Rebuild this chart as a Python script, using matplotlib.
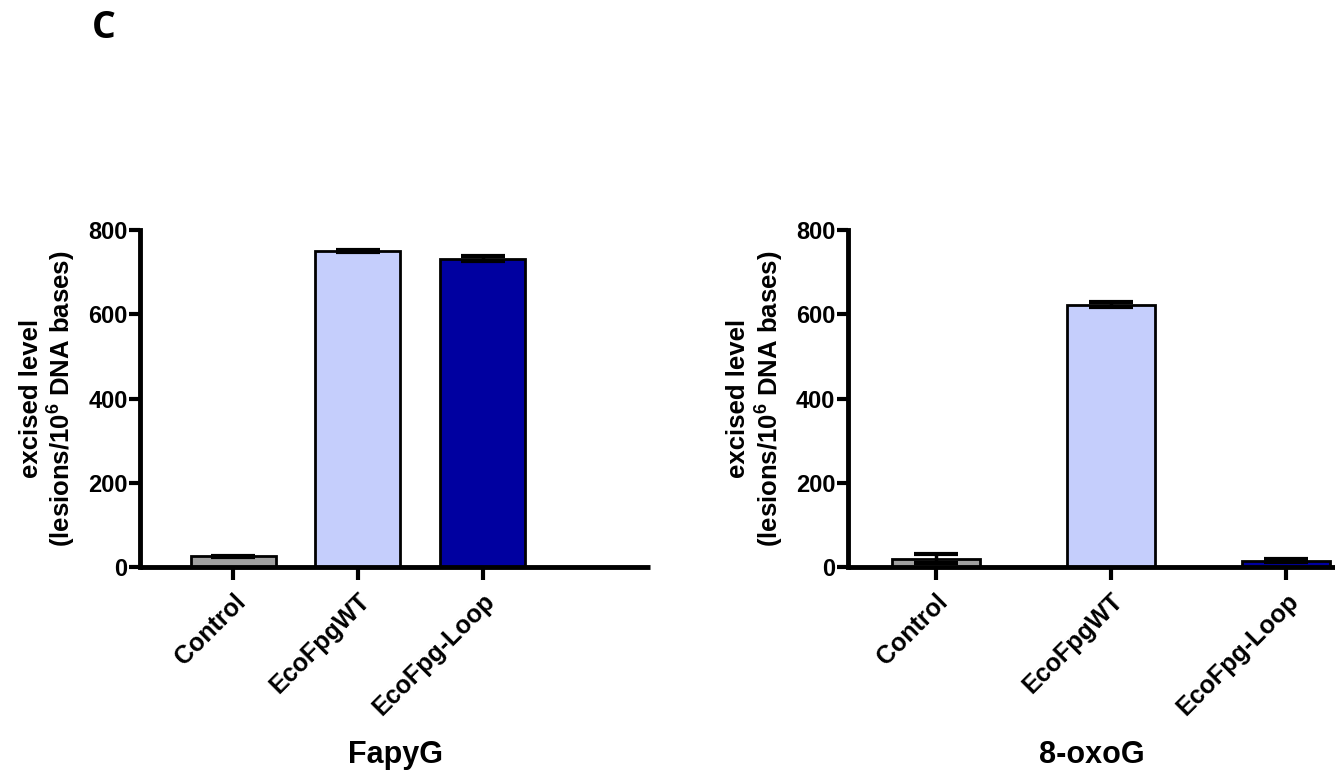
import numpy as np
import matplotlib
matplotlib.use("Agg")
import matplotlib.pyplot as plt

plt.rcParams['font.family'] = ['Liberation Sans', 'DejaVu Sans']
plt.rcParams['font.weight'] = 'bold'
plt.rcParams['mathtext.fontset'] = 'custom'
plt.rcParams['mathtext.rm'] = 'Liberation Sans:bold'
plt.rcParams['mathtext.bf'] = 'Liberation Sans:bold'

# data
groups = ["Control", "EcoFpgWT", "EcoFpg-Loop"]
colors = ["#a0a0a0", "#c5cefc", "#0000a0"]
fapyg_mean = [25, 750, 732]
fapyg_err = [2, 3, 6]
oxog_mean = [20, 623, 15]
oxog_err = [10, 5, 3]
yticks = [0, 200, 400, 600, 800]

fig = plt.figure(figsize=(13.35, 7.7), dpi=100)

def panel(rect, mean, err, xlim, width, title):
    ax = fig.add_axes(rect)
    x = np.arange(len(groups))
    ax.bar(x, mean, width=width, color=colors, edgecolor='black', linewidth=2, zorder=2)
    ax.errorbar(x, mean, yerr=err, fmt='none', ecolor='black', elinewidth=2.5,
                capsize=16, capthick=3, zorder=3)
    ax.set_xlim(*xlim)
    ax.set_ylim(0, 800)
    ax.set_yticks(yticks)
    ax.set_xticks(x)
    ax.set_xticklabels(groups, rotation=45, ha='right', rotation_mode='anchor',
                       fontsize=18, fontweight='bold')
    ax.tick_params(axis='y', labelsize=17, width=3, length=8, pad=1)
    ax.tick_params(axis='x', width=3, length=9, pad=7)
    for s in ['top', 'right']:
        ax.spines[s].set_visible(False)
    for s in ['left', 'bottom']:
        ax.spines[s].set_linewidth(3.5)
    ax.spines['bottom'].set_capstyle('butt')
    ax.set_ylabel("excised level\n(lesions/10$^{\\mathbf{6}}$ DNA bases)",
                  fontsize=18.5, fontweight='bold', labelpad=8, linespacing=1.05)
    ax.set_xlabel(title, fontsize=22, fontweight='bold', labelpad=14)
    return ax

ax1 = panel([0.105, 0.2636, 0.382, 0.4377], fapyg_mean, fapyg_err, (-0.744, 3.34), 0.68, "FapyG")
ax2 = panel([0.635, 0.2636, 0.365, 0.4377], oxog_mean, oxog_err, (-0.503, 2.28), 0.5, "8-oxoG")

fig.text(0.078, 0.963, "C", fontsize=27, fontweight='bold', family=['Open Sans', 'DejaVu Sans'],
         ha='center', va='center')

fig.savefig("out.png", dpi=100)
